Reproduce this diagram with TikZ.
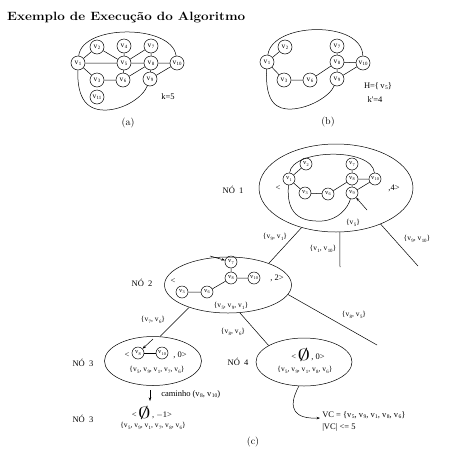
\documentclass[tikz,border=0pt]{standalone}
\usepackage{fontspec}
\usetikzlibrary{shapes.geometric,arrows.meta}
\newfontfamily\lab{Liberation Serif}
\newcommand\vv[1]{v\kern0.05em\raisebox{-0.35ex}{\scalebox{0.65}{#1}}}
\newcommand\bigempty{\raisebox{-0.25ex}{\fontsize{10}{10}\selectfont\scalebox{2.5}[1.6]{$\emptyset$}}}
\tikzset{
 vtx/.style={circle,draw,inner sep=0pt,minimum size=14pt,font=\lab\fontsize{7.5}{7.5}\selectfont},
 svtx/.style={circle,draw,inner sep=0pt,minimum size=12pt,font=\lab\fontsize{6.5}{6.5}\selectfont},
 txt/.style={inner sep=0pt,font=\lab\fontsize{8.5}{9}\selectfont},
 stxt/.style={inner sep=0pt,font=\lab\fontsize{7.5}{8}\selectfont},
 captxt/.style={inner sep=0pt,font=\fontsize{10}{12}\selectfont},
 ell/.style={ellipse,draw,inner sep=0pt},
 arr/.style={-{Stealth[length=3.5pt,width=2.5pt]}},
}
\begin{document}
\begin{tikzpicture}[x=1pt,y=-1pt,line width=0.5pt]
\useasboundingbox (0,0) rectangle (458,456);
\node[anchor=west,inner sep=0pt,font=\bfseries\fontsize{12}{14}\selectfont] (title) at (7,18) {\resizebox{238pt}{\height}{Exemplo de Execução do Algoritmo}};

% ---------- (a)
\node[vtx] (a1) at (78,63) {\vv1};
\node[vtx] (a2) at (97,47) {\vv2};
\node[vtx] (a4) at (124,46) {\vv4};
\node[vtx] (a7) at (151,46) {\vv7};
\node[vtx] (a5) at (124,63) {\vv5};
\node[vtx] (a8) at (151,63) {\vv8};
\node[vtx] (a10) at (177,63) {\vv{10}};
\node[vtx] (a3) at (97,80) {\vv3};
\node[vtx] (a6) at (123,80) {\vv6};
\node[vtx] (a9) at (150,79) {\vv9};
\node[vtx] (a11) at (97,97) {\vv{11}};
\draw (a1)--(a2) (a1)--(a5) (a1)--(a3) (a2)--(a5) (a4)--(a5) (a5)--(a7) (a5)--(a8)
      (a5)--(a6) (a3)--(a6) (a6)--(a8) (a7)--(a8) (a8)--(a10) (a8)--(a9) (a9)--(a10);
\draw (a1) .. controls (82,24) and (172,24) .. (a10);
\coordinate (ab) at (107,110);
\draw (a1) .. controls (77,100) and (88,111) .. (ab) .. controls (125,109) and (143,97) .. (a9);
\node[txt] (k5) at (168,97) {k=5};
\node[captxt] (capa) at (128,123) {(a)};

% ---------- (b)
\node[vtx] (b1) at (267,62) {\vv1};
\node[vtx] (b2) at (285,47) {\vv2};
\node[vtx] (b3) at (284,80) {\vv3};
\node[vtx] (b6) at (310,80) {\vv6};
\node[vtx] (b7) at (337,46) {\vv7};
\node[vtx] (b8) at (337,62) {\vv8};
\node[vtx] (b9) at (337,79) {\vv9};
\node[vtx] (b10) at (363,63) {\vv{10}};
\draw (b1)--(b2) (b1)--(b3) (b3)--(b6) (b6)--(b8) (b7)--(b8) (b8)--(b10) (b8)--(b9) (b9)--(b10);
\draw (b1) .. controls (272,22) and (362,20) .. (b10);
\coordinate (bb) at (292,109);
\draw (b1) .. controls (265,102) and (276,110) .. (bb) .. controls (310,108) and (330,96) .. (b9);
\node[txt] (hh) at (378,86) {H=\{\,\vv5\}};
\node[txt] (kk) at (375,100) {k'=4};
\node[captxt] (capb) at (328,122) {(b)};

% ---------- NO 1
\node[ell,minimum width=154pt,minimum height=88pt] (n1) at (336,188) {};
\node[svtx] (c1) at (289,179) {\vv1};
\node[svtx] (c2) at (306,164) {\vv2};
\node[svtx] (c3) at (305,193) {\vv3};
\node[svtx] (c6) at (328,194) {\vv6};
\node[svtx] (c7) at (352,164) {\vv7};
\node[svtx] (c8) at (352,179) {\vv8};
\node[svtx] (c9) at (352,193) {\vv9};
\node[svtx] (c10) at (375,179) {\vv{10}};
\draw (c1)--(c2) (c1)--(c3) (c3)--(c6) (c6)--(c8) (c7)--(c8) (c8)--(c10) (c8)--(c9) (c9)--(c10);
\draw (c1) .. controls (292,149) and (372,147) .. (c10);
\coordinate (cb) at (322,221);
\draw (c1) .. controls (286,214) and (300,222) .. (cb) .. controls (338,220) and (348,208) .. (c9);
\coordinate (ca) at (367,210);
\draw[arr] (ca) -- (c9);
\node[txt] (lt1) at (278,188) {<};
\node[txt] (gt1) at (394,188) {,4>};
\node[stxt] (s1) at (353,223) {\{\vv5\}};
\node[txt] (no1) at (233,190) {NÓ\ \ 1};

% ---------- NO 2
\node[ell,minimum width=127pt,minimum height=56pt] (n2) at (228,285) {};
\node[svtx] (d7) at (231,262) {\vv7};
\node[svtx] (d8) at (231,278) {\vv8};
\node[svtx] (d10) at (254,278) {\vv{10}};
\node[svtx] (d3) at (182,292) {\vv3};
\node[svtx] (d6) at (207,292) {\vv6};
\draw (d7)--(d8) (d8)--(d10) (d8)--(d6) (d6)--(d3);
\coordinate (da) at (210,256);
\draw[arr] (da) -- (d7);
\node[txt] (lt2) at (173,281) {<};
\node[txt] (gt2) at (277,278) {, 2>};
\node[stxt] (s2) at (231,306) {\{\vv5, \vv9, \vv1\}};
\node[txt] (no2) at (142,283) {NÓ\ \ 2};

% edges from NO 1
\draw (n1.229) -- (n2.28);
\coordinate (m1) at (340,267);
\draw (n1.275) -- (m1);
\coordinate (r1) at (418,266);
\draw (n1.321) -- (r1);
\node[stxt] (e1) at (275,237) {\{\vv9, \vv1\}};
\node[stxt] (e2) at (323,249) {\{\vv1, \vv{10}\}};
\node[stxt] (e3) at (417,239) {\{\vv9, \vv{10}\}};

% ---------- NO 3
\node[ell,minimum width=97pt,minimum height=49pt] (n3) at (153,361) {};
\node[txt] (lt3) at (127,355) {<};
\node[svtx] (f8) at (138,353) {\vv8};
\node[svtx] (f10) at (162,353) {\vv{10}};
\draw (f8)--(f10);
\node[txt] (gt3) at (180,355) {, 0>};
\node[stxt] (s3) at (157,370) {\{\vv5, \vv9, \vv1, \vv7, \vv6\}};
\coordinate (fa) at (153,339);
\draw[arr] (fa) -- (f8);
\node[txt] (no3) at (83,363) {NÓ\ \ 3};

% ---------- NO 4
\node[ell,minimum width=96pt,minimum height=48pt] (n4) at (304,362) {};
\node[txt] (t4) at (308,355) {<\,\bigempty\,, 0>};
\node[stxt] (s4) at (305,370) {\{\vv5, \vv9, \vv1, \vv8, \vv6\}};
\node[txt] (no4) at (238,362) {NÓ\ \ 4};

% edges from NO 2
\draw (n2.210) -- (n3.74);
\draw (n2.293) -- (n4.155);
\coordinate (r2) at (377,345);
\draw (n2.351) -- (r2);
\node[stxt] (e4) at (153,320) {\{\vv7, \vv6\}};
\node[stxt] (e5) at (233,332) {\{\vv8, \vv6\}};
\node[stxt] (e6) at (354,315) {\{\vv8, \vv5\}};

% ---------- final NO 3
\coordinate (p0) at (150,390);
\coordinate (p1) at (150,401);
\draw[arr] (p0) -- (p1);
\node[txt,anchor=west] (cam) at (161,394) {caminho (\vv8, \vv{10})};
\node[txt] (t5) at (152,413) {<\,\bigempty\,, $-$1>};
\node[stxt] (s5) at (153,426) {\{\vv5, \vv9, \vv1, \vv7, \vv8, \vv6\}};
\node[txt] (no5) at (83,419) {NÓ\ \ 3};

% ---------- VC
\node[txt,anchor=west] (vc) at (322,415) {VC = \{\vv5, \vv9, \vv1, \vv8, \vv6\}};
\node[txt,anchor=west] (vc2) at (322,427) {|VC| <= 5};
\coordinate (vt) at (320,418);
\draw[arr] (n4.258) .. controls (286,410) and (296,419) .. (vt);
\node[captxt] (capc) at (253,442) {(c)};
\end{tikzpicture}
\end{document}
